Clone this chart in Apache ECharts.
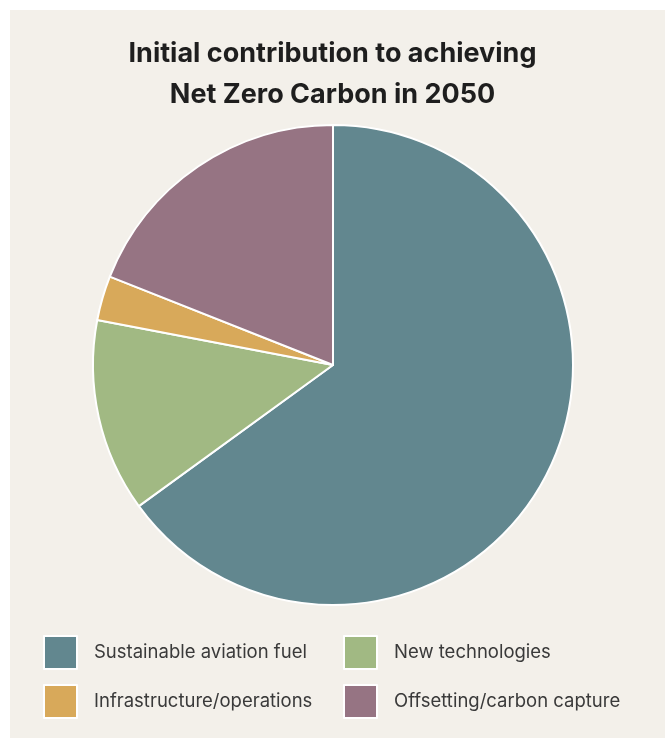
<!DOCTYPE html>
<html>
<head>
<meta charset="utf-8">
<script src="https://cdn.jsdelivr.net/npm/echarts@6/dist/echarts.min.js"></script>
<style>
html,body{margin:0;padding:0;background:#ffffff;}
#chart{width:665px;height:738px;}
</style>
</head>
<body>
<div id="chart"></div>
<script>
var categories = ['Sustainable aviation fuel', 'New technologies', 'Infrastructure/operations', 'Offsetting/carbon capture'];
var values = [65, 13, 3, 19];
var colors = ['#62878f', '#a1b983', '#d8a95a', '#967483'];
var titleText = 'Initial contribution to achieving\nNet Zero Carbon in 2050';

var chart = echarts.init(document.getElementById('chart'));
var legendBase = {
  orient: 'vertical',
  top: 635,
  padding: 0,
  itemWidth: 33,
  itemHeight: 33,
  itemGap: 14,
  icon: 'rect',
  selectedMode: false,
  textStyle: { fontFamily: 'Inter', fontSize: 18.5, color: '#3a3a3a', padding: [0, 0, 0, 12] }
};
chart.setOption({
  backgroundColor: '#ffffff',
  color: colors,
  graphic: [{
    type: 'rect', left: 10, top: 10, z: -10,
    shape: { width: 655, height: 728 },
    style: { fill: '#f3f0ea' }
  }],
  title: {
    text: titleText,
    left: 'center',
    top: 28,
    textStyle: { fontFamily: 'Inter', fontWeight: 'bold', fontSize: 27, color: '#1e1e1e', lineHeight: 41 }
  },
  legend: [
    Object.assign({}, legendBase, { left: 43, data: [categories[0], categories[2]] }),
    Object.assign({}, legendBase, { left: 343, data: [categories[1], categories[3]] })
  ],
  series: [{
    type: 'pie',
    center: [333, 365],
    radius: [0, 240],
    startAngle: 90,
    clockwise: true,
    label: { show: false },
    labelLine: { show: false },
    silent: true,
    animation: false,
    itemStyle: { borderColor: '#ffffff', borderWidth: 2 },
    data: categories.map(function (c, i) { return { name: c, value: values[i] }; })
  }]
});
</script>
</body>
</html>
